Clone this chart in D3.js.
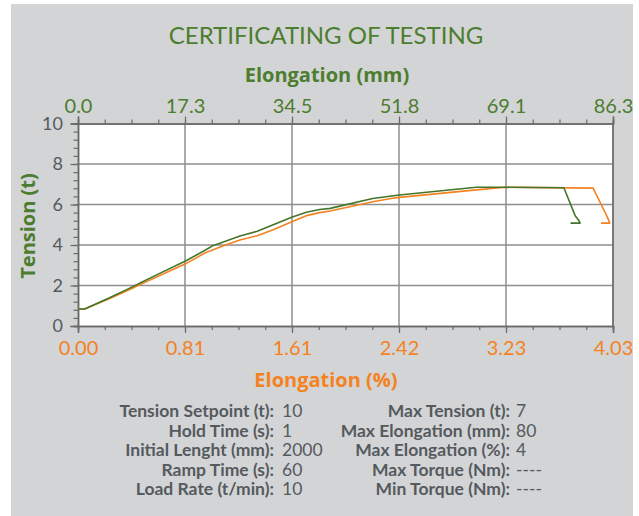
<!DOCTYPE html>
<html>
<head>
<meta charset="utf-8">
<script src="https://cdn.jsdelivr.net/npm/d3@7"></script>
<style>
  html, body { margin: 0; padding: 0; background: #ffffff; }
  svg { display: block; font-family: Lato, "Open Sans", sans-serif; }
</style>
</head>
<body>
<script>
// ---------- data ----------
const titleText = "CERTIFICATING OF TESTING";
const topAxisTitle = "Elongation (mm)";
const bottomAxisTitle = "Elongation (%)";
const leftAxisTitle = "Tension (t)";

const pctTicks = [0.00, 0.806, 1.612, 2.418, 3.224, 4.03];
const pctTickLabels = ["0.00", "0.81", "1.61", "2.42", "3.23", "4.03"];
const mmTicks = [0.0, 17.26, 34.52, 51.78, 69.04, 86.3];
const mmTickLabels = ["0.0", "17.3", "34.5", "51.8", "69.1", "86.3"];
const tensionTicks = [0, 2, 4, 6, 8, 10];

// green series: [elongation %, tension t]
const greenElong = [0, 0.05, 0.23, 0.39, 0.48, 0.60, 0.81, 0.96, 1.02, 1.10, 1.22, 1.35, 1.48, 1.61, 1.72, 1.82, 1.90, 2.22, 2.42, 3.00, 3.22, 3.66, 3.745, 3.772, 3.782, 3.71];
const greenTension = [0.84, 0.84, 1.37, 1.87, 2.16, 2.55, 3.21, 3.75, 3.98, 4.16, 4.44, 4.68, 5.02, 5.37, 5.62, 5.75, 5.81, 6.30, 6.47, 6.85, 6.85, 6.83, 5.45, 5.22, 5.08, 5.08];

// orange series
const orangeElong = [0, 0.05, 0.23, 0.39, 0.48, 0.60, 0.81, 0.96, 1.10, 1.22, 1.35, 1.48, 1.61, 1.72, 1.82, 1.90, 2.22, 2.36, 2.42, 3.00, 3.22, 3.88, 3.975, 3.998, 4.005, 3.94];
const orangeTension = [0.84, 0.84, 1.33, 1.80, 2.08, 2.44, 3.07, 3.62, 3.97, 4.25, 4.46, 4.78, 5.15, 5.45, 5.60, 5.68, 6.14, 6.30, 6.35, 6.72, 6.85, 6.81, 5.55, 5.22, 5.08, 5.08];

const infoLeftLabels = ["Tension Setpoint (t):", "Hold Time (s):", "Initial Lenght (mm):", "Ramp Time (s):", "Load Rate (t/min):"];
const infoLeftValues = ["10", "1", "2000", "60", "10"];
const infoRightLabels = ["Max Tension (t):", "Max Elongation (mm):", "Max Elongation (%):", "Max Torque (Nm):", "Min Torque (Nm):"];
const infoRightValues = ["7", "80", "4", "----", "----"];

// ---------- styling ----------
const W = 639, H = 516;
const green = "#4d7d2e";
const lineGreen = "#447528";
const orange = "#f58220";
const textGray = "#555a5e";
const axisGray = "#6a6a6a";
const gridGray = "#8e8e8e";
const bg = "#d3d4d6";
const boldFont = "'Open Sans', Lato, sans-serif";
const baseFont = "Lato, 'Open Sans', sans-serif";

const plot = { left: 78, right: 613, top: 123.5, bottom: 326 };

const svg = d3.select("body").append("svg").attr("width", W).attr("height", H);
svg.append("rect").attr("x", 11).attr("y", 4).attr("width", 622).attr("height", 512).attr("fill", bg);

const x = d3.scaleLinear().domain([0, 4.03]).range([plot.left, plot.right]);
const xmm = d3.scaleLinear().domain([0, 86.3]).range([plot.left, plot.right]);
const y = d3.scaleLinear().domain([0, 10]).range([plot.bottom, plot.top]);

svg.append("rect")
  .attr("x", plot.left).attr("y", plot.top)
  .attr("width", plot.right - plot.left).attr("height", plot.bottom - plot.top)
  .attr("fill", "#ffffff");

// grid
const g = svg.append("g");
g.selectAll("line.hg").data(tensionTicks.filter(d => d > 0 && d < 10)).join("line")
  .attr("x1", plot.left).attr("x2", plot.right)
  .attr("y1", d => y(d)).attr("y2", d => y(d))
  .attr("stroke", gridGray).attr("stroke-width", 1.5);
g.selectAll("line.vg").data(pctTicks.slice(1)).join("line")
  .attr("x1", d => x(d)).attr("x2", d => x(d))
  .attr("y1", plot.top).attr("y2", plot.bottom)
  .attr("stroke", gridGray).attr("stroke-width", 1.5);

// minor tick values
const minorPct = d3.range(0, 21).map(i => i * 4.03 / 20);
const minorMm = d3.range(0, 21).map(i => i * 86.3 / 20);
const minorT = d3.range(0, 26).map(i => i * 0.4);

function styleAxis(sel, color, size) {
  sel.select(".domain").attr("stroke", axisGray).attr("stroke-width", 1.5);
  sel.selectAll(".tick line").attr("stroke", axisGray).attr("stroke-width", 1.2);
  sel.selectAll("text").attr("fill", color).style("font-size", size + "px").style("font-family", baseFont);
}

// bottom
const bMinor = svg.append("g").attr("transform", `translate(0,${plot.bottom})`)
  .call(d3.axisBottom(x).tickValues(minorPct).tickSize(4).tickFormat(""));
styleAxis(bMinor, orange, 20);
const bMajor = svg.append("g").attr("transform", `translate(0,${plot.bottom})`)
  .call(d3.axisBottom(x).tickValues(pctTicks).tickSize(7).tickPadding(8)
    .tickFormat((d, i) => pctTickLabels[i]));
styleAxis(bMajor, orange, 20);

// top
const tMinor = svg.append("g").attr("transform", `translate(0,${plot.top})`)
  .call(d3.axisTop(xmm).tickValues(minorMm).tickSize(4).tickFormat(""));
styleAxis(tMinor, green, 20);
const tMajor = svg.append("g").attr("transform", `translate(0,${plot.top})`)
  .call(d3.axisTop(xmm).tickValues(mmTicks).tickSize(7).tickPadding(3.5)
    .tickFormat((d, i) => mmTickLabels[i]));
styleAxis(tMajor, green, 20);

// left
const lMinor = svg.append("g").attr("transform", `translate(${plot.left},0)`)
  .call(d3.axisLeft(y).tickValues(minorT).tickSize(4.5).tickFormat(""));
styleAxis(lMinor, textGray, 18);
const lMajor = svg.append("g").attr("transform", `translate(${plot.left},0)`)
  .call(d3.axisLeft(y).tickValues(tensionTicks).tickSize(7.5).tickPadding(7.5)
    .tickFormat(d3.format("d")));
styleAxis(lMajor, textGray, 18);

// right border
svg.append("line").attr("x1", plot.right).attr("x2", plot.right)
  .attr("y1", plot.top).attr("y2", plot.bottom)
  .attr("stroke", axisGray).attr("stroke-width", 1.5);

// lines
const line = d3.line().x(d => x(d[0])).y(d => y(d[1]));
const orangeData = orangeElong.map((e, i) => [e, orangeTension[i]]);
const greenData = greenElong.map((e, i) => [e, greenTension[i]]);
svg.append("path").datum(orangeData).attr("d", line)
  .attr("fill", "none").attr("stroke", orange).attr("stroke-width", 1.6).attr("stroke-linejoin", "round");
svg.append("path").datum(greenData).attr("d", line)
  .attr("fill", "none").attr("stroke", lineGreen).attr("stroke-width", 1.6).attr("stroke-linejoin", "round");

// titles
svg.append("text").attr("x", 326).attr("y", 44).attr("text-anchor", "middle")
  .attr("fill", green).style("font-size", "24px").style("font-family", baseFont).text(titleText);
svg.append("text").attr("x", 327).attr("y", 82).attr("text-anchor", "middle")
  .attr("fill", green).style("font-size", "20px").style("font-weight", "bold")
  .style("font-family", boldFont).text(topAxisTitle);
svg.append("text").attr("x", 326).attr("y", 387).attr("text-anchor", "middle")
  .attr("fill", orange).style("font-size", "20px").style("font-weight", "bold")
  .style("font-family", boldFont).text(bottomAxisTitle);
svg.append("text").attr("transform", "translate(35,226) rotate(-90)").attr("text-anchor", "middle")
  .attr("fill", green).style("font-size", "20px").style("font-weight", "bold")
  .style("font-family", boldFont).text(leftAxisTitle);

// info table
const rowY = i => 417 + i * 19.5;
const info = svg.append("g").attr("fill", textGray)
  .style("font-size", "17.5px").style("font-family", baseFont);
infoLeftLabels.forEach((t, i) => {
  info.append("text").attr("x", 274).attr("y", rowY(i)).attr("text-anchor", "end")
    .style("font-weight", "bold").text(t);
  info.append("text").attr("x", 282).attr("y", rowY(i)).text(infoLeftValues[i]);
  info.append("text").attr("x", 510).attr("y", rowY(i)).attr("text-anchor", "end")
    .style("font-weight", "bold").text(infoRightLabels[i]);
  info.append("text").attr("x", 516).attr("y", rowY(i)).text(infoRightValues[i]);
});
</script>
</body>
</html>
